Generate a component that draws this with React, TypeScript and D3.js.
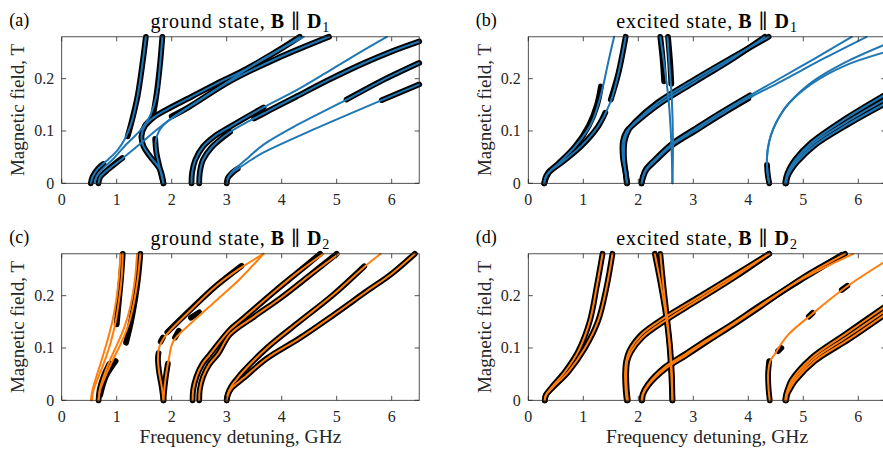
import React from 'react';
import * as d3 from 'd3';

type Pt = [number, number];

const X_MAX = 6.5;
const Y_MAX = 0.28;
const xTicks = [0, 1, 2, 3, 4, 5, 6];
const yTicks = [0, 0.1, 0.2];
const yTickLabels = ['0', '0.1', '0.2'];

// ---------- Panel (a): ground state, B || D1 ----------
const aFit1: Pt[] = [[0.53,0],[0.56,0.012],[0.66,0.028],[0.85,0.046],[1.02,0.064],[1.15,0.085],[1.27,0.117],[1.38,0.167],[1.47,0.23],[1.53,0.28]];
const aFit2: Pt[] = [[0.6,0],[0.63,0.012],[0.75,0.028],[0.95,0.048],[1.18,0.075],[1.42,0.1],[1.6,0.128],[1.72,0.167],[1.79,0.23],[1.83,0.28]];
const aFit3: Pt[] = [[0.67,0],[0.7,0.012],[0.85,0.027],[1.1,0.047],[1.4,0.073],[1.7,0.1],[2.0,0.124],[2.5,0.158],[3.06,0.197],[3.7,0.24],[4.4,0.28]];
const aFit4: Pt[] = [[1.85,0],[1.79,0.026],[1.61,0.051],[1.49,0.07],[1.45,0.09],[1.51,0.109],[1.66,0.125],[1.91,0.141],[2.39,0.167],[2.88,0.194],[3.24,0.212],[3.8,0.245],[4.33,0.28]];
const aFit5: Pt[] = [[1.85,0],[1.78,0.03],[1.72,0.06],[1.71,0.08],[1.77,0.1],[1.92,0.118],[2.3,0.145],[3.06,0.195],[3.9,0.238],[4.86,0.28]];
const aFit6: Pt[] = [[2.36,0],[2.37,0.02],[2.43,0.045],[2.57,0.07],[2.78,0.09],[3.06,0.108],[3.67,0.145],[4.27,0.178],[4.88,0.216],[5.4,0.249],[5.91,0.28]];
const aFit7: Pt[] = [[2.5,0],[2.51,0.02],[2.57,0.045],[2.72,0.068],[3.06,0.098],[3.79,0.14],[4.27,0.166],[4.88,0.199],[5.48,0.229],[6.0,0.252],[6.5,0.271]];
const aFit8: Pt[] = [[3.0,0],[3.02,0.01],[3.08,0.02],[3.2,0.032],[3.4,0.05],[3.67,0.074],[4.27,0.111],[5.18,0.16],[5.8,0.195],[6.5,0.23]];
const aFit9: Pt[] = [[3.0,0],[3.02,0.01],[3.1,0.02],[3.25,0.031],[3.45,0.045],[3.67,0.059],[4.57,0.1025],[5.82,0.159],[6.5,0.189]];
const aFits: Pt[][] = [aFit1, aFit2, aFit3, aFit4, aFit5, aFit6, aFit7, aFit8, aFit9];

const aData: Pt[][] = [
  [[1.2,0.09],[1.27,0.117],[1.38,0.167],[1.47,0.23],[1.53,0.28]],
  [[0.53,0],[0.56,0.012],[0.66,0.028],[0.76,0.037]],
  [[1.67,0.135],[1.72,0.167],[1.79,0.23],[1.83,0.28]],
  [[0.67,0],[0.7,0.012],[0.85,0.027],[1.0,0.04],[1.1,0.048]],
  aFit4,
  [[1.85,0],[1.78,0.03],[1.72,0.06],[1.7,0.085]],
  [[2.0,0.128],[2.3,0.145],[3.06,0.195],[3.9,0.238],[4.86,0.28]],
  [[2.36,0],[2.37,0.02],[2.43,0.045],[2.57,0.07],[2.78,0.09],[3.06,0.108],[3.67,0.145]],
  [[2.5,0],[2.51,0.02],[2.57,0.045],[2.72,0.068],[3.06,0.098]],
  [[3.5,0.124],[3.79,0.14],[4.27,0.166],[4.88,0.199],[5.48,0.229],[6.0,0.252],[6.5,0.271]],
  [[3.0,0],[3.02,0.01],[3.1,0.02],[3.2,0.028]],
  [[5.18,0.16],[5.8,0.195],[6.5,0.23]],
  [[5.82,0.159],[6.5,0.189]],
];

// ---------- Panel (b): excited state, B || D1 ----------
const bFit1: Pt[] = [[0.29,0],[0.31,0.01],[0.36,0.02],[0.55,0.038],[0.85,0.07],[1.15,0.115],[1.33,0.173],[1.45,0.23],[1.56,0.28]];
const bFit2: Pt[] = [[0.29,0],[0.31,0.01],[0.38,0.021],[0.61,0.04],[0.97,0.072],[1.27,0.109],[1.49,0.154],[1.64,0.211],[1.77,0.28]];
const bFit3: Pt[] = [[1.79,0],[1.77,0.02],[1.74,0.05],[1.75,0.08],[1.83,0.103],[1.94,0.117],[2.36,0.155],[3.03,0.199],[3.7,0.24],[4.37,0.28]];
const bFit4: Pt[] = [[1.8,0],[1.77,0.02],[1.72,0.05],[1.72,0.08],[1.79,0.1],[1.92,0.113],[2.36,0.15],[3.03,0.194],[3.7,0.237],[4.3,0.28]];
const bFit5: Pt[] = [[2.06,0],[2.08,0.012],[2.14,0.027],[2.3,0.045],[2.62,0.076],[3.03,0.104],[3.5,0.135],[4.03,0.168],[4.5,0.196],[5.2,0.238],[5.88,0.28]];
const bFit6: Pt[] = [[2.06,0],[2.09,0.012],[2.15,0.026],[2.32,0.044],[2.62,0.073],[3.03,0.1],[3.5,0.131],[4.03,0.164],[4.6,0.195],[5.4,0.24],[6.15,0.28]];
const bFit7: Pt[] = [[2.62,0],[2.63,0.08],[2.61,0.16],[2.57,0.22],[2.53,0.28]];
const bFit8: Pt[] = [[2.62,0],[2.6,0.08],[2.55,0.16],[2.48,0.22],[2.4,0.28]];
const bFit9: Pt[] = [[4.38,0],[4.35,0.02],[4.34,0.05],[4.38,0.08],[4.45,0.103],[4.58,0.13],[4.73,0.152],[5.15,0.193],[5.76,0.231],[6.5,0.266]];
const bFit10: Pt[] = [[4.38,0],[4.35,0.02],[4.34,0.05],[4.38,0.08],[4.45,0.103],[4.58,0.13],[4.73,0.152],[5.15,0.19],[5.76,0.225],[6.5,0.251]];
const bFit11: Pt[] = [[4.67,0],[4.69,0.012],[4.75,0.028],[4.85,0.045],[5.15,0.078],[5.76,0.123],[6.5,0.17]];
const bFit12: Pt[] = [[4.68,0],[4.7,0.012],[4.76,0.027],[4.87,0.043],[5.17,0.075],[5.78,0.117],[6.5,0.161]];
const bFit13: Pt[] = [[4.69,0],[4.71,0.012],[4.78,0.026],[4.89,0.041],[5.2,0.072],[5.8,0.112],[6.5,0.153]];
const bFits: Pt[][] = [bFit1, bFit2, bFit3, bFit4, bFit5, bFit6, bFit7, bFit8, bFit9, bFit10, bFit11, bFit12, bFit13];

const bData: Pt[][] = [
  [[0.29,0],[0.31,0.01],[0.36,0.02],[0.55,0.038],[0.85,0.07],[1.1,0.11],[1.25,0.15],[1.32,0.185]],
  [[0.29,0],[0.38,0.021],[0.61,0.04],[0.97,0.072],[1.27,0.109],[1.4,0.135]],
  [[1.5,0.16],[1.64,0.211],[1.77,0.28]],
  bFit3,
  bFit4,
  [[2.06,0],[2.08,0.012],[2.14,0.027],[2.3,0.045],[2.62,0.076],[3.03,0.104],[3.5,0.135],[4.03,0.168]],
  [[2.06,0],[2.09,0.012],[2.15,0.026],[2.32,0.044],[2.62,0.073],[3.03,0.1],[3.5,0.131],[4.0,0.162]],
  [[2.4,0.28],[2.44,0.24],[2.47,0.195]],
  [[2.54,0.28],[2.58,0.23],[2.6,0.19]],
  [[4.38,0],[4.35,0.02],[4.34,0.035]],
  bFit11,
  bFit12,
  bFit13,
];

// ---------- Panel (c): ground state, B || D2 ----------
const cFit1: Pt[] = [[0.53,0],[0.56,0.02],[0.63,0.045],[0.72,0.075],[0.82,0.11],[0.92,0.15],[0.99,0.19],[1.04,0.235],[1.07,0.28]];
const cFit2: Pt[] = [[0.55,0],[0.58,0.02],[0.67,0.045],[0.78,0.075],[0.89,0.11],[0.98,0.15],[1.04,0.19],[1.09,0.235],[1.11,0.28]];
const cFit3: Pt[] = [[0.67,0],[0.69,0.02],[0.76,0.045],[0.87,0.075],[1.0,0.105],[1.14,0.14],[1.25,0.18],[1.33,0.23],[1.37,0.28]];
const cFit4: Pt[] = [[0.67,0],[0.7,0.02],[0.79,0.045],[0.92,0.075],[1.06,0.105],[1.2,0.14],[1.3,0.18],[1.38,0.23],[1.43,0.28]];
const cFit5: Pt[] = [[1.85,0],[1.82,0.025],[1.77,0.055],[1.75,0.08],[1.77,0.1],[1.85,0.118],[1.97,0.133],[2.39,0.177],[2.8,0.218],[3.24,0.252],[3.67,0.28]];
const cFit6: Pt[] = [[1.85,0],[1.87,0.025],[1.9,0.05],[1.95,0.08],[2.03,0.113],[2.39,0.151],[2.8,0.19],[3.24,0.232],[3.67,0.28]];
const cFit7: Pt[] = [[2.38,0],[2.39,0.02],[2.45,0.045],[2.55,0.068],[2.69,0.087],[3.06,0.135],[3.24,0.151],[3.88,0.209],[4.3,0.245],[4.76,0.28]];
const cFit8: Pt[] = [[2.5,0],[2.51,0.02],[2.57,0.045],[2.68,0.068],[2.85,0.09],[3.06,0.126],[3.5,0.16],[4.0,0.197],[4.5,0.238],[5.04,0.28]];
const cFit9: Pt[] = [[3.0,0],[3.02,0.012],[3.08,0.026],[3.18,0.04],[3.3,0.055],[3.73,0.1],[4.33,0.151],[4.94,0.202],[5.48,0.253],[5.8,0.28]];
const cFit10: Pt[] = [[3.0,0],[3.02,0.01],[3.08,0.022],[3.18,0.032],[3.3,0.042],[3.73,0.08],[4.33,0.119],[4.94,0.163],[5.54,0.208],[6.0,0.242],[6.42,0.28]];
const cFits: Pt[][] = [cFit1, cFit2, cFit3, cFit4, cFit5, cFit6, cFit7, cFit8, cFit9, cFit10];

const cData: Pt[][] = [
  [[1.0,0.145],[1.04,0.19],[1.08,0.235],[1.11,0.28]],
  [[1.17,0.11],[1.26,0.15],[1.33,0.19],[1.39,0.235],[1.43,0.28]],
  [[0.67,0],[0.69,0.02],[0.76,0.045],[0.87,0.07]],
  [[0.7,0.01],[0.8,0.045],[0.98,0.075]],
  [[1.85,0],[1.82,0.025],[1.77,0.055],[1.75,0.08],[1.76,0.09]],
  [[1.85,0],[1.87,0.025],[1.9,0.05],[1.93,0.07]],
  [[1.8,0.112],[1.84,0.12]],
  [[2.06,0.12],[2.13,0.133]],
  [[1.92,0.13],[2.39,0.178],[2.8,0.218],[3.27,0.257]],
  [[2.35,0.158],[2.5,0.168]],
  [[2.38,0],[2.39,0.02],[2.45,0.045],[2.55,0.068],[2.69,0.087],[3.06,0.135],[3.24,0.151],[3.88,0.209],[4.3,0.245],[4.7,0.28]],
  [[2.5,0],[2.51,0.02],[2.57,0.045],[2.68,0.068],[2.85,0.09],[3.06,0.126],[3.5,0.16],[4.0,0.197],[4.5,0.238],[5.0,0.28]],
  [[3.0,0],[3.02,0.012],[3.08,0.026],[3.18,0.04],[3.3,0.055],[3.73,0.1],[4.33,0.151],[4.94,0.202],[5.5,0.256]],
  cFit10,
];

// ---------- Panel (d): excited state, B || D2 ----------
const dFit1: Pt[] = [[0.3,0],[0.32,0.01],[0.42,0.024],[0.67,0.055],[0.91,0.094],[1.12,0.152],[1.24,0.215],[1.35,0.28]];
const dFit2: Pt[] = [[0.3,0],[0.32,0.01],[0.44,0.024],[0.73,0.055],[1.03,0.1],[1.27,0.152],[1.42,0.215],[1.53,0.28]];
const dFit3: Pt[] = [[1.79,0],[1.77,0.02],[1.76,0.05],[1.78,0.075],[1.84,0.095],[2.06,0.126],[2.48,0.158],[3.03,0.193],[3.7,0.236],[4.38,0.28]];
const dFit4: Pt[] = [[1.81,0],[1.79,0.02],[1.78,0.05],[1.8,0.075],[1.87,0.093],[2.08,0.121],[2.5,0.153],[3.05,0.189],[3.72,0.233],[4.38,0.28]];
const dFit5: Pt[] = [[2.06,0],[2.08,0.012],[2.18,0.031],[2.48,0.063],[2.85,0.088],[3.21,0.113],[3.7,0.145],[4.24,0.183],[5.0,0.233],[5.91,0.28]];
const dFit6: Pt[] = [[2.07,0],[2.09,0.012],[2.19,0.03],[2.5,0.061],[2.87,0.086],[3.23,0.111],[3.72,0.144],[4.26,0.182],[5.0,0.235],[5.76,0.28]];
const dFit7: Pt[] = [[2.62,0],[2.61,0.05],[2.58,0.1],[2.53,0.15],[2.46,0.215],[2.4,0.28]];
const dFit8: Pt[] = [[2.62,0],[2.6,0.05],[2.57,0.1],[2.52,0.15],[2.42,0.215],[2.3,0.28]];
const dFit9: Pt[] = [[4.39,0],[4.37,0.02],[4.36,0.05],[4.4,0.075],[4.48,0.088],[4.6,0.108],[4.73,0.126],[5.15,0.164],[5.76,0.215],[6.5,0.266]];
const dFit10: Pt[] = [[4.67,0],[4.69,0.012],[4.73,0.025],[4.79,0.039],[5.15,0.081],[5.76,0.126],[6.5,0.18]];
const dFit11: Pt[] = [[4.68,0],[4.7,0.012],[4.75,0.025],[4.82,0.038],[5.18,0.078],[5.79,0.121],[6.5,0.172]];
const dFit12: Pt[] = [[4.69,0],[4.71,0.012],[4.77,0.024],[4.85,0.037],[5.21,0.075],[5.82,0.116],[6.5,0.165]];
const dFits: Pt[][] = [dFit1, dFit2, dFit3, dFit4, dFit5, dFit6, dFit7, dFit8, dFit9, dFit10, dFit11, dFit12];

const dData: Pt[][] = [
  dFit1,
  dFit2,
  dFit3,
  dFit4,
  [[2.06,0],[2.08,0.012],[2.18,0.031],[2.48,0.063],[2.85,0.088],[3.21,0.113],[3.7,0.145],[4.24,0.183],[5.0,0.233],[5.7,0.278]],
  dFit6,
  dFit7,
  dFit8,
  [[4.39,0],[4.37,0.02],[4.36,0.05],[4.38,0.075]],
  [[4.54,0.094],[4.6,0.1]],
  [[5.1,0.16],[5.17,0.167]],
  [[5.7,0.211],[5.8,0.219]],
  dFit10,
  dFit11,
  dFit12,
];

const BLUE = '#1f77b4';
const ORANGE = '#ff7f0e';
const FONT = '"Liberation Serif", "DejaVu Serif", serif';

const W = 357.5;
const H = 146.5;

type PanelProps = {
  left: number;
  top: number;
  fits: Pt[][];
  data: Pt[][];
  color: string;
  letter: string;
  state: string;
  sub: string;
  xlabel: boolean;
};

function Panel({ left, top, fits, data, color, letter, state, sub, xlabel }: PanelProps) {
  const x = d3.scaleLinear().domain([0, X_MAX]).range([0, W]);
  const y = d3.scaleLinear().domain([0, Y_MAX]).range([H, 0]);
  const line = d3
    .line<Pt>()
    .x((d) => x(d[0]))
    .y((d) => y(d[1]))
    .curve(d3.curveCatmullRom.alpha(0.5));
  const axisColor = '#262626';
  const tl = 4.5;
  return (
    <g transform={`translate(${left},${top})`} fontFamily={FONT}>
      {data.map((d, i) => (
        <path key={'d' + i} d={line(d) || ''} fill="none" stroke="#000" strokeWidth={5.8}
          strokeLinecap="round" strokeLinejoin="round" />
      ))}
      {fits.map((d, i) => (
        <path key={'f' + i} d={line(d) || ''} fill="none" stroke={color} strokeWidth={2}
          strokeLinecap="round" strokeLinejoin="round" />
      ))}
      <rect x={0} y={0} width={W} height={H} fill="none" stroke={axisColor} strokeWidth={0.8} />
      {xTicks.map((t) => (
        <g key={'xt' + t}>
          <line x1={x(t)} x2={x(t)} y1={H} y2={H - tl} stroke={axisColor} strokeWidth={0.8} />
          <line x1={x(t)} x2={x(t)} y1={0} y2={tl} stroke={axisColor} strokeWidth={0.8} />
          <text x={x(t)} y={H + 21.7} textAnchor="middle" fontSize={16} fill="#262626">{t}</text>
        </g>
      ))}
      {yTicks.map((t, i) => (
        <g key={'yt' + t}>
          <line x1={0} x2={tl} y1={y(t)} y2={y(t)} stroke={axisColor} strokeWidth={0.8} />
          <line x1={W} x2={W - tl} y1={y(t)} y2={y(t)} stroke={axisColor} strokeWidth={0.8} />
          <text x={-7.5} y={y(t)} dy="0.34em" textAnchor="end" fontSize={16} fill="#262626">{yTickLabels[i]}</text>
        </g>
      ))}
      <text x={-37.5} y={H / 2} transform={`rotate(-90, -37.5, ${H / 2})`} textAnchor="middle" fontSize={19} fill="#262626">
        Magnetic field, T
      </text>
      <text x={W / 2} y={-8.8} textAnchor="middle" fontSize={20} letterSpacing={0.9} fill="#000">
        {state + ','}
        <tspan dx={5} fontWeight="bold">B</tspan>
        <tspan dx={6}>{'\u2225'}</tspan>
        <tspan dx={6} fontWeight="bold">D</tspan>
        <tspan fontSize={14} dy={3.5}>{sub}</tspan>
      </text>
      <text x={-52.5} y={-10.5} fontSize={18} fill="#000">{letter}</text>
      {xlabel && (
        <text x={W / 2} y={H + 42.7} textAnchor="middle" fontSize={19.5} fill="#262626">
          Frequency detuning, GHz
        </text>
      )}
    </g>
  );
}

export default function App() {
  return (
    <svg width={883} height={450} style={{ position: 'fixed', left: 0, top: 0, background: '#fff' }}>
      <rect x={0} y={0} width={883} height={450} fill="#fff" />
      <Panel left={61.7} top={36.8} fits={aFits} data={aData} color={BLUE} letter="(a)" state="ground state" sub="1" xlabel={false} />
      <Panel left={528.3} top={36.8} fits={bFits} data={bData} color={BLUE} letter="(b)" state="excited state" sub="1" xlabel={false} />
      <Panel left={61.7} top={253.8} fits={cFits} data={cData} color={ORANGE} letter="(c)" state="ground state" sub="2" xlabel={true} />
      <Panel left={528.3} top={253.8} fits={dFits} data={dData} color={ORANGE} letter="(d)" state="excited state" sub="2" xlabel={true} />
    </svg>
  );
}
